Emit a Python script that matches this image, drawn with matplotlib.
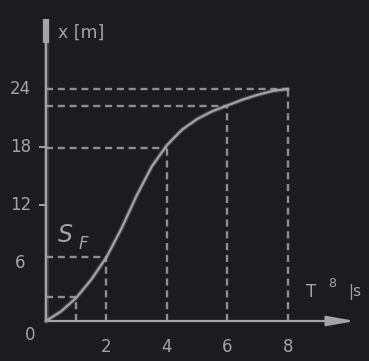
import numpy as np
import matplotlib.pyplot as plt

# ----------------------------
# Data
# ----------------------------
t_s = [0, 0.5, 1, 1.5, 2, 2.5, 3, 3.5, 4, 4.5, 5, 5.5, 6, 6.5, 7, 7.5, 8]
x_m = [0, 1.0, 2.4, 4.3, 6.6, 9.6, 13.0, 16.0, 18.2, 19.8, 20.9, 21.7, 22.3, 22.9, 23.4, 23.8, 24.0]

# dashed guide lines (time, displacement)
guide_t = [1, 2, 4, 6, 8]
guide_x = [2.5, 6.6, 17.9, 22.2, 24.0]

xticks = [2, 4, 6, 8]
yticks = [6, 12, 18, 24]
ytick_marks = [12, 18]

bg = "#1c1b20"
ink = "#a4a4a6"

# pixel scale of the original drawing
px_t = 30.25
px_x = 9.667

fig = plt.figure(figsize=(3.69, 3.61), dpi=100, facecolor=bg)
ax = fig.add_axes([0, 0, 1, 1])
ax.set_facecolor(bg)
ax.set_xlim(-46 / px_t, (369 - 46) / px_t)
ax.set_ylim(-(361 - 321) / px_x, 321 / px_x)
ax.axis("off")


def soft_line(xs, ys, **kw):
    # slightly blurry look of a scanned drawing
    ax.plot(xs, ys, color=ink, lw=3.4, alpha=0.25, solid_capstyle="round",
            solid_joinstyle="round", **kw)
    ax.plot(xs, ys, color=ink, lw=1.6, solid_joinstyle="round", **kw)


# axes
soft_line([0, 0], [0, (321 - 30) / px_x])
ax.plot([0, 0], [(321 - 43) / px_x, (321 - 19) / px_x], color=ink, lw=4.5,
        solid_capstyle="butt")
ax.annotate("", xy=((358 - 46) / px_t, 0), xytext=(0, 0),
            arrowprops=dict(arrowstyle="-|>,head_length=1.4,head_width=0.25",
                            color=ink, lw=1.6, mutation_scale=12))

# guides
for gt, gx in zip(guide_t, guide_x):
    ax.plot([gt, gt], [0, gx], color=ink, lw=1.7, ls=(0, (3, 2)), alpha=0.85)
    ax.plot([0, gt], [gx, gx], color=ink, lw=1.7, ls=(0, (3, 2)), alpha=0.85)

# curve
soft_line(t_s, x_m)

# ticks and labels
for v in ytick_marks:
    ax.plot([-6 / px_t, 0], [v, v], color=ink, lw=1.4)

fs = 12
for v in yticks:
    ax.text(-0.85, v, str(v), color=ink, fontsize=fs, ha="center", va="center")
for v in xticks:
    ax.text(v, -2.7, str(v), color=ink, fontsize=fs, ha="center", va="center")
ax.text(-0.53, -1.45, "0", color=ink, fontsize=fs, ha="center", va="center")

ax.text(0.4, 29.8, "x [m]", color=ink, fontsize=12.5, ha="left", va="center")
ax.text(0.65, 8.9, "S", color=ink, fontsize=17, style="italic", ha="center", va="center")
ax.text(1.23, 8.0, "F", color=ink, fontsize=12, style="italic", ha="center", va="center")

ax.text(8.75, 3.0, "T", color=ink, fontsize=12, ha="center", va="center")
ax.text(9.45, 3.9, "8", color=ink, fontsize=9, ha="center", va="center")
ax.text(10.0, 3.0, "|s", color=ink, fontsize=11, ha="left", va="center")

fig.savefig("out.png", dpi=100, facecolor=bg)
